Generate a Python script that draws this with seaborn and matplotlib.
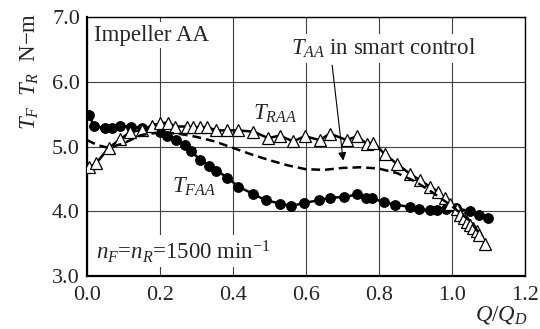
import matplotlib
matplotlib.use('Agg')
import matplotlib.pyplot as plt
import seaborn as sns
import numpy as np

# T_FAA (front rotor torque, filled circles)
q_faa = [0.005, 0.02, 0.05, 0.07, 0.09, 0.12, 0.15, 0.18, 0.20, 0.22, 0.245, 0.27,
         0.285, 0.31, 0.335, 0.355, 0.385, 0.415, 0.455, 0.49, 0.53, 0.56, 0.595,
         0.635, 0.665, 0.705, 0.74, 0.765, 0.78, 0.815, 0.845, 0.885, 0.91, 0.94,
         0.96, 0.985, 1.01, 1.05, 1.075, 1.10]
t_faa = [5.48, 5.32, 5.28, 5.28, 5.32, 5.31, 5.29, 5.28, 5.23, 5.17, 5.10, 5.03,
         4.93, 4.80, 4.70, 4.63, 4.52, 4.38, 4.27, 4.17, 4.12, 4.08, 4.13,
         4.17, 4.21, 4.22, 4.26, 4.21, 4.20, 4.14, 4.10, 4.07, 4.03, 4.02,
         4.02, 4.04, 4.05, 4.00, 3.94, 3.89]

# T_RAA (rear rotor torque, open triangles)
q_raa = [0.005, 0.025, 0.06, 0.09, 0.118, 0.15, 0.177, 0.20, 0.222, 0.241, 0.273,
         0.29, 0.31, 0.33, 0.355, 0.383, 0.415, 0.456, 0.497, 0.528, 0.565, 0.597,
         0.638, 0.666, 0.712, 0.74, 0.767, 0.785, 0.817, 0.85, 0.885, 0.913, 0.94,
         0.963, 0.981, 0.995, 1.013, 1.023, 1.032, 1.041, 1.05, 1.059, 1.068,
         1.075, 1.092]
t_raa = [4.68, 4.74, 4.98, 5.11, 5.22, 5.26, 5.32, 5.36, 5.37, 5.31, 5.31,
         5.30, 5.30, 5.30, 5.25, 5.25, 5.25, 5.23, 5.13, 5.17, 5.08, 5.16,
         5.10, 5.20, 5.10, 5.16, 5.04, 5.06, 4.88, 4.73, 4.58, 4.48, 4.38,
         4.30, 4.20, 4.12, 4.04, 3.94, 3.89, 3.84, 3.79, 3.74, 3.69,
         3.63, 3.50]

# T_AA in smart control (dashed)
q_aa = [0.0, 0.03, 0.06, 0.10, 0.15, 0.20, 0.25, 0.30, 0.35, 0.40, 0.45, 0.50,
        0.55, 0.60, 0.65, 0.70, 0.75, 0.80, 0.85, 0.90, 0.95, 1.00, 1.05, 1.08]
t_aa = [5.10, 5.02, 4.98, 5.05, 5.18, 5.22, 5.20, 5.15, 5.08, 4.98, 4.88, 4.79,
        4.71, 4.65, 4.64, 4.67, 4.68, 4.66, 4.59, 4.46, 4.28, 4.08, 3.85, 3.62]

x_ticks = [0.0, 0.2, 0.4, 0.6, 0.8, 1.0, 1.2]
y_ticks = [3.0, 4.0, 5.0, 6.0, 7.0]

sns.set_style('white')
plt.rcParams['font.family'] = ['Liberation Serif', 'DejaVu Serif']
plt.rcParams['mathtext.fontset'] = 'custom'
plt.rcParams['mathtext.rm'] = 'Liberation Serif'
plt.rcParams['mathtext.it'] = 'Liberation Serif:italic'

FS = 16.5

fig = plt.figure(figsize=(5.4, 3.29), dpi=100)
ax = fig.add_axes([0.161, 0.161, 0.811, 0.787])

sns.lineplot(x=q_faa, y=t_faa, ax=ax, sort=False, color='black', lw=1.8,
             marker='o', markersize=7, markerfacecolor='black',
             markeredgecolor='black', zorder=3)
sns.lineplot(x=q_raa, y=t_raa, ax=ax, sort=False, color='black', lw=1.8,
             marker='^', markersize=9, markerfacecolor='white',
             markeredgecolor='black', markeredgewidth=0.9, zorder=4)
sns.lineplot(x=q_aa, y=t_aa, ax=ax, sort=False, color='black', lw=1.8,
             zorder=5)
ax.lines[-1].set_dashes([3.5, 2.0])

ax.set_xlim(0, 1.2)
ax.set_ylim(3.0, 7.0)
ax.set_xticks(x_ticks)
ax.set_xticklabels([f'{v:.1f}' for v in x_ticks])
ax.set_yticks(y_ticks)
ax.set_yticklabels([f'{v:.1f}' for v in y_ticks])
ax.tick_params(labelsize=16, length=0)
ax.tick_params(axis='x', pad=7)
ax.tick_params(axis='y', pad=5)
ax.grid(True, color='0.25', lw=0.8)
ax.set_axisbelow(True)
for s in ax.spines.values():
    s.set_color('black')
    s.set_linewidth(1.0)
ax.spines['left'].set_linewidth(1.6)
ax.spines['bottom'].set_linewidth(1.6)

box = dict(facecolor='white', edgecolor='none', pad=2)
ax.text(0.02, 6.72, 'Impeller AA', fontsize=FS, ha='left', va='center',
        bbox=box, zorder=2)
ax.text(0.56, 6.52, r'$T_{AA}$ in smart control', fontsize=FS, ha='left',
        va='center', bbox=box, zorder=2)
ax.text(0.024, 3.38, r'$n_F$=$n_R$=1500 min$^{-1}$', fontsize=FS, ha='left',
        va='center', bbox=box, zorder=2)
ax.text(0.455, 5.41, r'$T_{RAA}$', fontsize=FS, ha='left', va='baseline', zorder=6)
ax.text(0.232, 4.29, r'$T_{FAA}$', fontsize=FS, ha='left', va='baseline', zorder=6)
ax.annotate('', xy=(0.703, 4.74), xytext=(0.671, 6.30),
            arrowprops=dict(arrowstyle='-|>', color='black', lw=0.8,
                            mutation_scale=12), zorder=6)

ax.text(-0.13, 0.79, r'$T_F\ \ T_R$  N$-$m', transform=ax.transAxes,
        rotation=90, fontsize=FS, ha='center', va='center')
fig.text(0.977, 0.01, r'$Q/Q_D$', fontsize=FS, ha='right', va='bottom')

fig.savefig('out.png', dpi=100)
